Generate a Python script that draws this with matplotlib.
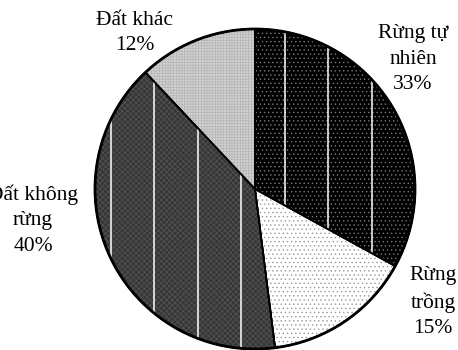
import numpy as np
import matplotlib.pyplot as plt
from matplotlib.patches import Wedge

labels = ['Rừng tự\nnhiên\n33%', 'Rừng\ntrồng\n15%', 'Đất không\nrừng\n40%', 'Đất khác\n12%']
values = [33, 15, 40, 12]

face = ['#000000', '#ffffff', '#363636', '#d2d2d2']
dots = ['#777777', '#9a9a9a', '#555555', '#b4b4b4']
hatches = ['....', '....', 'xxxxxx', '++++++']
stripes = [True, False, True, False]
label_xy = [(413, 291), (433, 48), (33, 130), (135, 317)]

plt.rcParams['font.family'] = ['Liberation Serif', 'DejaVu Serif']
plt.rcParams['hatch.linewidth'] = 0.5

fig = plt.figure(figsize=(4.58, 3.5), dpi=100)
ax = fig.add_axes([0, 0, 1, 1])

cx, cy, r = 255, 161, 160
wedges, _ = ax.pie(values, startangle=90, counterclock=False, colors=face,
                   center=(cx, cy), radius=r, frame=True,
                   wedgeprops=dict(edgecolor='black', linewidth=1.2))
ax.set_xlim(0, 458)
ax.set_ylim(0, 350)
ax.axis('off')

for w, col, h, st in zip(wedges, dots, hatches, stripes):
    over = Wedge(w.center, w.r, w.theta1, w.theta2, facecolor='none',
                 edgecolor=col, hatch=h, linewidth=0, zorder=2)
    ax.add_patch(over)
    if st:
        for x in np.arange(cx - 200, cx + 200, 43.5) + 12:
            ln, = ax.plot([x, x], [cy - r, cy + r], color='white', lw=1.1, zorder=3)
            ln.set_clip_path(w)
    outline = Wedge(w.center, w.r, w.theta1, w.theta2, facecolor='none',
                    edgecolor='black', linewidth=1.2, zorder=4)
    ax.add_patch(outline)

# thicker outer rim
ax.add_patch(plt.Circle((cx, cy), r, facecolor='none', edgecolor='black', lw=2, zorder=5))

for txt, (x, y) in zip(labels, label_xy):
    ax.text(x, y, txt, ha='center', va='center', fontsize=15.5, linespacing=1.45)

fig.savefig('out.png', dpi=100)
